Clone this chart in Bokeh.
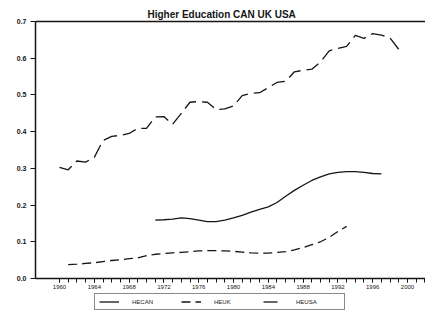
from bokeh.plotting import figure
from bokeh.layouts import column
from bokeh.models import (FixedTicker, LinearAxis, Legend, LegendItem, Range1d, Title,
                          CustomJSTickFormatter)
from bokeh.embed import file_html
from bokeh.resources import INLINE

# ---- data ----
can_years = list(range(1971, 1998))
hecan = [0.159, 0.160, 0.162, 0.165, 0.163, 0.159, 0.155, 0.155, 0.159, 0.165,
         0.172, 0.181, 0.188, 0.195, 0.207, 0.224, 0.240, 0.254, 0.267, 0.277,
         0.285, 0.289, 0.291, 0.291, 0.289, 0.286, 0.285]

uk_years = list(range(1961, 1994))
heuk = [0.038, 0.039, 0.041, 0.043, 0.046, 0.049, 0.051, 0.054, 0.056, 0.062,
        0.066, 0.068, 0.070, 0.071, 0.073, 0.075, 0.076, 0.076, 0.075, 0.074,
        0.072, 0.070, 0.069, 0.069, 0.071, 0.073, 0.078, 0.084, 0.092, 0.100,
        0.112, 0.128, 0.142]

usa_years = list(range(1960, 2000))
heusa = [0.303, 0.296, 0.320, 0.317, 0.330, 0.376, 0.387, 0.390, 0.395, 0.409,
         0.409, 0.440, 0.441, 0.420, 0.450, 0.480, 0.482, 0.480, 0.460, 0.462,
         0.470, 0.498, 0.504, 0.506, 0.520, 0.534, 0.537, 0.563, 0.567, 0.570,
         0.590, 0.620, 0.627, 0.632, 0.662, 0.654, 0.667, 0.663, 0.655, 0.624]

series_labels = ["HECAN", "HEUK", "HEUSA"]
series_x = [can_years, uk_years, usa_years]
series_y = [hecan, heuk, heusa]

x_major = list(range(1960, 2001, 4))
x_minor = list(range(1960, 2003))
y_major = [0.0, 0.1, 0.2, 0.3, 0.4, 0.5, 0.6, 0.7]

FONT = "Liberation Sans"
INK = "#151515"
STYLES = [dict(line_color=INK, line_width=1.3),
          dict(line_color=INK, line_width=1.3, line_dash="9 5"),
          dict(line_color=INK, line_width=1.3, line_dash="14 6")]

p = figure(width=425, height=291, output_backend="svg", toolbar_location=None,
           x_range=Range1d(1957.24, 2002.07), y_range=Range1d(0, 0.7),
           min_border_left=35, min_border_right=0, min_border_top=21, min_border_bottom=0,
           x_axis_type=None, y_axis_type=None)
p.outline_line_color = None
p.grid.visible = False
p.background_fill_color = "white"
p.border_fill_color = "white"

# top frame line (added first so it sits next to the frame)
top = LinearAxis(ticker=FixedTicker(ticks=[]), major_label_text_font_size="0px",
                 axis_line_color=INK, axis_line_width=1.5, major_tick_out=0,
                 minor_tick_out=0, major_label_standoff=0)
p.add_layout(top, "above")

t = Title(text="Higher Education CAN UK USA", align="left", offset=112,
          text_font=FONT, text_font_size="10px", text_font_style="bold", text_color=INK,
          standoff=3)
p.add_layout(t, "above")

xa = LinearAxis(ticker=FixedTicker(ticks=x_major, minor_ticks=x_minor))
xa.axis_line_color = INK
xa.axis_line_width = 1.5
xa.major_tick_in = 0
xa.major_tick_out = 4
xa.minor_tick_in = 0
xa.minor_tick_out = 4
xa.major_tick_line_color = INK
xa.minor_tick_line_color = INK
xa.major_label_text_font = FONT
xa.major_label_text_font_size = "6px"
xa.major_label_text_color = INK
xa.major_label_standoff = 2
p.add_layout(xa, "below")

ya = LinearAxis(ticker=FixedTicker(ticks=y_major),
                formatter=CustomJSTickFormatter(code="return tick.toFixed(1);"))
ya.axis_line_color = INK
ya.axis_line_width = 1.5
ya.major_tick_in = 0
ya.major_tick_out = 5
ya.minor_tick_line_color = None
ya.major_tick_line_color = INK
ya.major_label_text_font = FONT
ya.major_label_text_font_size = "7px"
ya.major_label_text_font_style = "bold"
ya.major_label_text_color = INK
ya.major_label_standoff = 4
p.add_layout(ya, "left")

for xs, ys, st in zip(series_x, series_y, STYLES):
    p.line(xs, ys, **st)

# legend strip below the chart (its renderers lie outside this strip's range)
q = figure(width=425, height=21, output_backend="svg", toolbar_location=None,
           x_range=Range1d(0, 1), y_range=Range1d(0, 1),
           min_border_left=35, min_border_right=0, min_border_top=0, min_border_bottom=0,
           x_axis_type=None, y_axis_type=None)
q.grid.visible = False
q.outline_line_color = None
q.background_fill_color = "white"
q.border_fill_color = "white"
rs = [q.line(xs, ys, **st) for xs, ys, st in zip(series_x, series_y, STYLES)]
leg = Legend(items=[LegendItem(label=l, renderers=[r]) for l, r in zip(series_labels, rs)],
             orientation="horizontal", location=(59, 2),
             glyph_width=20, glyph_height=7, label_standoff=13, spacing=5,
             label_width=44,
             label_text_font=FONT, label_text_font_size="6px", label_text_color=INK,
             label_height=7, padding=4, margin=0,
             border_line_color=INK, border_line_width=1, background_fill_color="white",
             background_fill_alpha=1)
q.add_layout(leg, "center")

open("out.html", "w").write(file_html(column(p, q, spacing=0), INLINE))
